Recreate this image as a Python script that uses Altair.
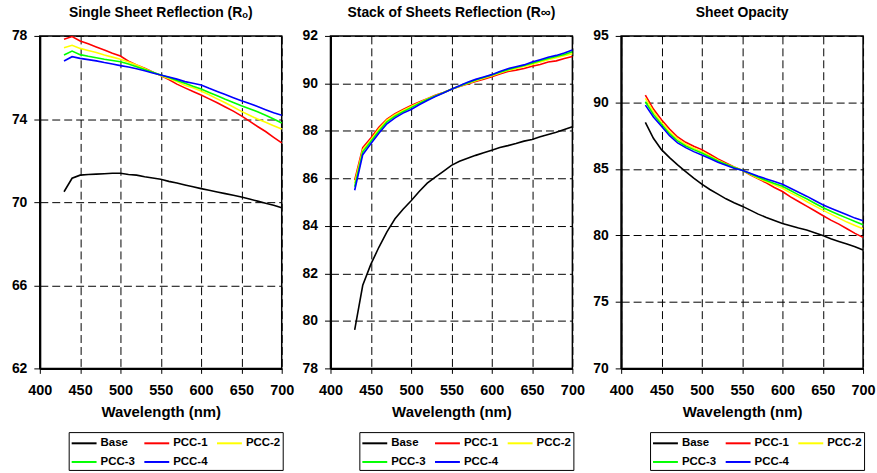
import altair as alt
import pandas as pd

wavelength = [430, 440, 450, 460, 470, 480, 490, 500, 510, 520, 530, 540, 550, 560,
              570, 580, 590, 600, 610, 620, 630, 640, 650, 660, 670, 680, 690, 700]

series = ["Base", "PCC-1", "PCC-2", "PCC-3", "PCC-4"]
colors = ["#000000", "#FF0000", "#FFFF00", "#00FF00", "#0000FF"]

# Single sheet reflection R0
r0_base = [70.5, 71.15, 71.3, 71.33, 71.35, 71.37, 71.39, 71.39, 71.33, 71.3, 71.22, 71.16, 71.1, 71.0,
           70.92, 70.83, 70.74, 70.65, 70.57, 70.49, 70.41, 70.33, 70.25, 70.15, 70.05, 69.95, 69.85, 69.73]
r0_pcc1 = [77.84, 77.97, 77.76, 77.62, 77.47, 77.32, 77.17, 77.03, 76.78, 76.6, 76.45, 76.27, 76.09, 75.9,
           75.68, 75.5, 75.33, 75.16, 74.97, 74.78, 74.58, 74.38, 74.15, 73.9, 73.64, 73.4, 73.12, 72.85]
r0_pcc2 = [77.43, 77.55, 77.4, 77.3, 77.2, 77.08, 76.98, 76.88, 76.75, 76.6, 76.42, 76.25, 76.09, 75.95,
           75.8, 75.63, 75.5, 75.35, 75.17, 74.97, 74.78, 74.58, 74.37, 74.18, 74.0, 73.85, 73.68, 73.52]
r0_pcc3 = [77.08, 77.27, 77.1, 77.02, 76.95, 76.88, 76.82, 76.76, 76.65, 76.52, 76.38, 76.25, 76.12, 76.0,
           75.86, 75.72, 75.58, 75.45, 75.28, 75.12, 74.95, 74.8, 74.64, 74.5, 74.35, 74.18, 74.0, 73.81]
r0_pcc4 = [76.79, 77.0, 76.92, 76.86, 76.8, 76.72, 76.65, 76.57, 76.5, 76.42, 76.32, 76.22, 76.12, 76.02,
           75.92, 75.8, 75.72, 75.64, 75.48, 75.33, 75.18, 75.03, 74.88, 74.75, 74.6, 74.45, 74.3, 74.18]

# Stack of sheets reflection Rinf
rinf_base = [79.62, 81.5, 82.38, 83.1, 83.75, 84.3, 84.7, 85.06, 85.45, 85.8, 86.05, 86.3, 86.55, 86.72,
             86.85, 86.97, 87.08, 87.19, 87.3, 87.38, 87.47, 87.57, 87.64, 87.75, 87.85, 87.94, 88.06, 88.18]
rinf_pcc1 = [85.93, 87.3, 87.7, 88.15, 88.5, 88.72, 88.9, 89.07, 89.22, 89.36, 89.5, 89.62, 89.75, 89.87,
             89.98, 90.08, 90.18, 90.28, 90.4, 90.5, 90.56, 90.63, 90.72, 90.8, 90.9, 90.95, 91.05, 91.13]
rinf_pcc2 = [85.8, 87.2, 87.62, 88.08, 88.45, 88.68, 88.86, 89.03, 89.19, 89.34, 89.48, 89.61, 89.75, 89.88,
             90.0, 90.11, 90.22, 90.32, 90.44, 90.55, 90.63, 90.71, 90.8, 90.9, 91.0, 91.08, 91.17, 91.25]
rinf_pcc3 = [85.65, 87.12, 87.55, 88.0, 88.38, 88.62, 88.81, 88.98, 89.16, 89.32, 89.47, 89.61, 89.75, 89.89,
             90.02, 90.14, 90.25, 90.35, 90.47, 90.58, 90.67, 90.75, 90.85, 90.95, 91.05, 91.13, 91.22, 91.33]
rinf_pcc4 = [85.5, 87.0, 87.46, 87.9, 88.3, 88.55, 88.75, 88.9, 89.1, 89.28, 89.45, 89.6, 89.75, 89.9,
             90.05, 90.17, 90.27, 90.37, 90.5, 90.62, 90.7, 90.78, 90.9, 91.0, 91.1, 91.18, 91.28, 91.41]

# Sheet opacity
op_base = [88.5, 87.3, 86.45, 85.85, 85.3, 84.8, 84.3, 83.85, 83.45, 83.1, 82.75, 82.45, 82.2, 81.9,
           81.6, 81.35, 81.12, 80.9, 80.72, 80.55, 80.4, 80.2, 80.0, 79.75, 79.55, 79.35, 79.15, 78.9]
op_pcc1 = [90.55, 89.5, 88.7, 88.0, 87.4, 87.0, 86.7, 86.45, 86.1, 85.75, 85.45, 85.15, 84.9, 84.55,
           84.25, 83.95, 83.6, 83.3, 82.9, 82.55, 82.2, 81.85, 81.5, 81.15, 80.85, 80.5, 80.15, 79.85]
op_pcc2 = [90.3, 89.3, 88.5, 87.8, 87.25, 86.85, 86.55, 86.3, 85.98, 85.65, 85.38, 85.12, 84.9, 84.6,
           84.3, 84.05, 83.8, 83.55, 83.2, 82.9, 82.55, 82.22, 81.9, 81.6, 81.3, 81.0, 80.75, 80.5]
op_pcc3 = [90.05, 89.1, 88.35, 87.65, 87.1, 86.72, 86.45, 86.2, 85.9, 85.6, 85.35, 85.1, 84.9, 84.63,
           84.37, 84.13, 83.9, 83.7, 83.38, 83.05, 82.75, 82.42, 82.1, 81.82, 81.55, 81.3, 81.05, 80.8]
op_pcc4 = [89.8, 88.9, 88.2, 87.5, 86.95, 86.6, 86.3, 86.05, 85.78, 85.5, 85.27, 85.05, 84.9, 84.68,
           84.45, 84.25, 84.05, 83.85, 83.55, 83.25, 82.95, 82.62, 82.3, 82.05, 81.8, 81.55, 81.3, 81.1]

x_ticks = [400, 450, 500, 550, 600, 650, 700]

FONT = "Liberation Sans"


def panel(title, values, ydomain, yticks):
    rows = []
    for s, vals in zip(series, values):
        for w, v in zip(wavelength, vals):
            rows.append({"wl": w, "v": v, "series": s})
    df = pd.DataFrame(rows)
    return alt.Chart(df).mark_line(strokeWidth=1.6).encode(
        x=alt.X("wl:Q",
                scale=alt.Scale(domain=[400, 700], nice=False, zero=False),
                axis=alt.Axis(values=x_ticks, title="Wavelength (nm)", format="d")),
        y=alt.Y("v:Q",
                scale=alt.Scale(domain=ydomain, nice=False, zero=False),
                axis=alt.Axis(values=yticks, title=None, format="d")),
        color=alt.Color("series:N",
                        scale=alt.Scale(domain=series, range=colors),
                        legend=alt.Legend(orient="none", legendX=29, legendY=398,
                                          columns=3, direction="horizontal",
                                          symbolType="M-1,0H2.125", symbolSize=256,
                                          symbolStrokeWidth=2, title=None,
                                          strokeColor="black", padding=2,
                                          columnPadding=5, rowPadding=4,
                                          labelFont=FONT, labelFontSize=11.5,
                                          labelFontWeight="bold", labelColor="black",
                                          labelOffset=12)),
    ).properties(
        width=243, height=334,
        title=alt.TitleParams(title, font=FONT, fontSize=14, fontWeight="bold",
                              color="black", anchor="middle", offset=9),
    )


p1 = panel("Single Sheet Reflection (R\u2092)",
           [r0_base, r0_pcc1, r0_pcc2, r0_pcc3, r0_pcc4], [62, 78], [62, 66, 70, 74, 78])
p2 = panel("Stack of Sheets Reflection (R\u221e)",
           [rinf_base, rinf_pcc1, rinf_pcc2, rinf_pcc3, rinf_pcc4], [78, 92],
           [78, 80, 82, 84, 86, 88, 90, 92])
p3 = panel("Sheet Opacity",
           [op_base, op_pcc1, op_pcc2, op_pcc3, op_pcc4], [70, 95], [70, 75, 80, 85, 90, 95])

chart = alt.hconcat(p1, p2, p3, spacing=6).resolve_scale(
    color="independent", y="independent", x="independent"
).resolve_legend(color="independent").properties(
    padding={"left": 10, "top": 4, "right": 1, "bottom": 0},
    background="white",
).configure_axis(
    labelFont=FONT, labelFontWeight="bold", labelColor="black", labelFlush=False,
    titleFont=FONT, titleFontWeight="bold", titleColor="black",
    grid=True, gridColor="black", gridDash=[8, 4], gridWidth=1,
    domainColor="black", domainWidth=2,
    tickColor="black", tickWidth=1,
).configure_axisX(
    labelFontSize=14.5, labelPadding=10, tickSize=5, titleFontSize=15, titlePadding=8,
).configure_axisY(
    labelFontSize=14, labelPadding=7, tickSize=6,
).configure_view(
    stroke="black", strokeWidth=1.5,
)

chart.save("out.html", embed_options={"renderer": "svg", "actions": False})
